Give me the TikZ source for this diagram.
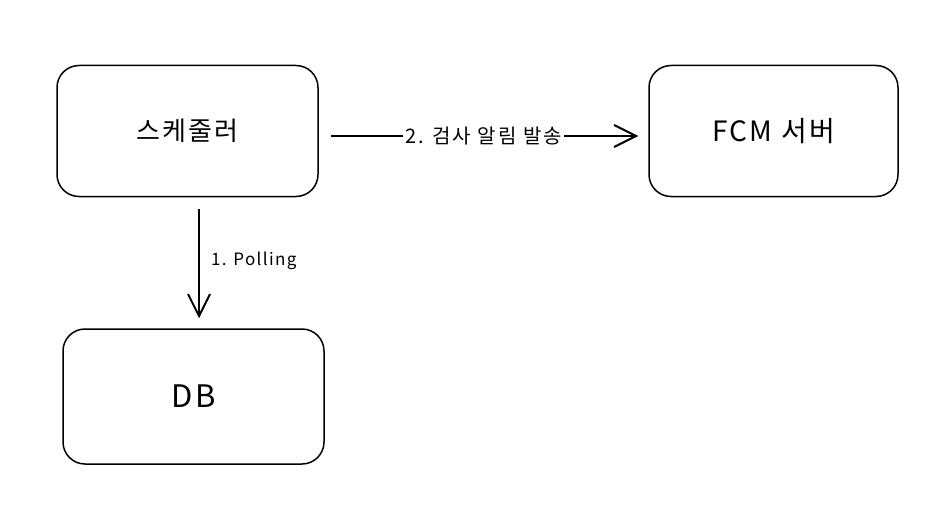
\documentclass[tikz,border=0pt]{standalone}
\usepackage{fontspec}
\setmainfont{Noto Sans CJK KR}
\newfontfamily\spacedfont[LetterSpace=8]{Noto Sans CJK KR}
\newfontfamily\widefont[LetterSpace=10]{Noto Sans CJK KR}
\usetikzlibrary{arrows.meta,positioning}

\begin{document}
\begin{tikzpicture}[x=1pt,y=-1pt,->,>={Straight Barb[length=22pt,width=22pt]},
line width=1.5pt,
box/.style={draw,rounded corners=22pt,minimum width=261pt,minimum height=131pt,
font=\spacedfont\fontsize{26}{30}\selectfont},
lbl/.style={font=\spacedfont\fontsize{17}{20}\selectfont,inner xsep=2pt},
link/.style={line width=2pt,shorten <=12pt,shorten >=10pt}]
        \useasboundingbox (0,0) rectangle (941,524);
        \node [box] (sched) at (187.5,131) {스케줄러};
        \node [box, minimum width=249pt, font=\spacedfont\fontsize{28}{32}\selectfont] (fcm) at (773.5,131) {FCM 서버};
        \node [box, minimum height=135pt, font=\spacedfont\fontsize{31}{35}\selectfont] (db) at (193.5,396.5) {DB};
        \path ([yshift=-5pt]sched.east) edge [link] node [lbl, fill=white, font=\widefont\fontsize{20}{24}\selectfont] {2. 검사 알림 발송} ([yshift=-5pt]fcm.west);
        \path ([xshift=11.5pt]sched.south) edge [link] node [lbl, right, xshift=9pt, yshift=2pt] {1. Polling} ([xshift=5.5pt]db.north);
    \end{tikzpicture}
\end{document}
